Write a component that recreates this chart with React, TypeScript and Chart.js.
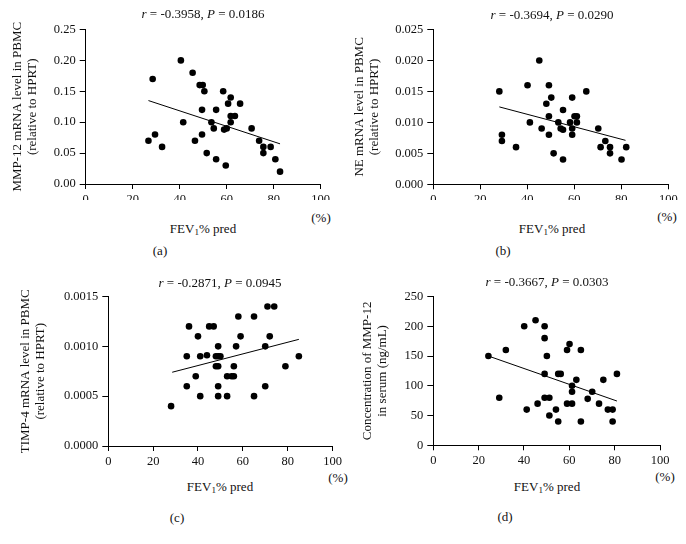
import React, { useEffect, useRef } from "react";
import { Chart, registerables } from "chart.js";
Chart.register(...registerables);

const FONT = "'Liberation Serif', 'Times New Roman', serif";

const xTicks = [0, 20, 40, 60, 80, 100];

// Panel (a)
const aX = [26.7, 28.5, 29.5, 32.5, 40.5, 41.5, 45.5, 46.5, 48.5, 49.8, 50.5, 49.5, 49.5, 51.5, 53.5, 54.5, 55.5, 55.5, 58.5, 58.9, 60, 59.6, 60.6, 61.7, 61.7, 63.5, 61.7, 65.7, 70.6, 73.8, 75.6, 75.6, 78.7, 80.7, 82.7];
const aY = [0.07, 0.17, 0.08, 0.06, 0.2, 0.1, 0.18, 0.07, 0.16, 0.16, 0.15, 0.12, 0.08, 0.05, 0.1, 0.09, 0.12, 0.04, 0.15, 0.088, 0.09, 0.03, 0.13, 0.14, 0.11, 0.11, 0.1, 0.13, 0.09, 0.07, 0.06, 0.05, 0.06, 0.04, 0.02];
const aLineX = [26.7, 82.7];
const aLineY = [0.135, 0.065];
const aYTicks = [0, 0.05, 0.1, 0.15, 0.2, 0.25];

// Panel (b)
const bX = [28.1, 29.2, 29.2, 35.2, 40.1, 41.1, 45.1, 46.1, 48.1, 49.2, 50.2, 49.2, 49.2, 51.2, 53.2, 54.2, 55.2, 55.2, 55.2, 58.2, 59.1, 59.1, 59.1, 60.1, 61.1, 61.1, 65.1, 70.2, 71.2, 73.2, 75.2, 75.2, 80.1, 82.1];
const bY = [0.015, 0.008, 0.007, 0.006, 0.016, 0.01, 0.02, 0.009, 0.013, 0.016, 0.014, 0.011, 0.008, 0.005, 0.01, 0.009, 0.0088, 0.012, 0.004, 0.01, 0.014, 0.009, 0.008, 0.011, 0.011, 0.01, 0.015, 0.009, 0.006, 0.007, 0.006, 0.005, 0.004, 0.006];
const bLineX = [28.1, 81.8];
const bLineY = [0.0125, 0.0071];
const bYTicks = [0, 0.005, 0.01, 0.015, 0.02, 0.025];

// Panel (c)
const cX = [28, 35, 35, 36, 39, 40, 41, 41, 44, 45, 47, 48, 48, 49, 49, 49, 50, 49, 49, 53, 55, 56, 53, 56, 57, 58, 59, 65, 65, 70, 70, 71, 72, 74, 79, 85];
const cY = [0.0004, 0.0009, 0.0006, 0.0012, 0.0007, 0.0011, 0.0009, 0.0005, 0.00091, 0.0012, 0.0012, 0.0009, 0.0008, 0.001, 0.0008, 0.0009, 0.0009, 0.0006, 0.0005, 0.0007, 0.0007, 0.0007, 0.0005, 0.0008, 0.001, 0.0013, 0.0011, 0.0013, 0.0005, 0.001, 0.0006, 0.0014, 0.0011, 0.0014, 0.0008, 0.0009];
const cLineX = [28.5, 85];
const cLineY = [0.00074, 0.00107];
const cYTicks = [0, 0.0005, 0.001, 0.0015];

// Panel (d)
const dX = [24.3, 29.1, 32, 40.1, 41.2, 45.1, 46, 49.1, 49.1, 50.1, 49.1, 49.1, 51.2, 51.2, 54.1, 55.1, 55.1, 56.2, 59, 60.1, 59, 61.2, 61.2, 61.2, 63.1, 65.1, 65.1, 68.1, 70.1, 73.1, 75, 77, 79.1, 79.1, 81];
const dY = [150, 80, 160, 200, 60, 210, 70, 200, 180, 150, 120, 80, 80, 50, 60, 40, 120, 120, 160, 170, 70, 70, 100, 90, 110, 160, 40, 78, 90, 70, 110, 60, 60, 40, 120];
const dLineX = [24.3, 81];
const dLineY = [150, 74.4];
const dYTicks = [0, 50, 100, 150, 200, 250];

type PanelCfg = {
  xs: number[]; ys: number[]; lx: number[]; ly: number[];
  yTicks: number[]; dec: number; yTitle: string[];
  left: number; top: number; w: number; h: number;
  yW: number; xH: number; padTop: number; padRight: number; titlePad: number;
};

const panels: PanelCfg[] = [
  { xs: aX, ys: aY, lx: aLineX, ly: aLineY, yTicks: aYTicks, dec: 2, yTitle: ["MMP-12 mRNA level in PBMC", "(relative to HPRT)"],
    left: 0, top: 18, w: 345, h: 182, yW: 85.7, xH: 16, padTop: 10, padRight: 24.3, titlePad: 10 },
  { xs: bX, ys: bY, lx: bLineX, ly: bLineY, yTicks: bYTicks, dec: 3, yTitle: ["NE mRNA level in PBMC", "(relative to HPRT)"],
    left: 345, top: 18, w: 341, h: 182, yW: 88.3, xH: 15.7, padTop: 10.7, padRight: 17.7, titlePad: 7.5 },
  { xs: cX, ys: cY, lx: cLineX, ly: cLineY, yTicks: cYTicks, dec: 4, yTitle: ["TIMP-4 mRNA level in PBMC", "(relative to HPRT)"],
    left: 0, top: 285, w: 345, h: 180, yW: 108.3, xH: 19, padTop: 11.3, padRight: 12.5, titlePad: 18.5 },
  { xs: dX, ys: dY, lx: dLineX, ly: dLineY, yTicks: dYTicks, dec: 0, yTitle: ["Concentration of MMP-12", "in serum (ng/mL)"],
    left: 345, top: 285, w: 341, h: 180, yW: 88.3, xH: 19.7, padTop: 10.3, padRight: 26, titlePad: 15.5 },
];

const titles = [
  { r: "-0.3958", p: "0.0186", x: 203, y: 13 },
  { r: "-0.3694", p: "0.0290", x: 552, y: 14 },
  { r: "-0.2871", p: "0.0945", x: 220, y: 282 },
  { r: "-0.3667", p: "0.0303", x: 547, y: 281 },
];
const xTitlePos = [[203, 228], [552, 228], [220, 486], [547, 486]];
const pctPos = [[321, 217], [667, 216], [338, 477], [665, 476]];
const captions = ["(a)", "(b)", "(c)", "(d)"];
const capPos = [[160, 250], [503, 250], [177, 517], [505, 516]];

function makeChart(canvas: HTMLCanvasElement, p: PanelCfg) {
  const tickFont = { family: FONT, size: 12.5 };
  return new Chart(canvas, {
    type: "scatter",
    data: {
      datasets: [
        {
          data: p.xs.map((x, i) => ({ x, y: p.ys[i] })),
          backgroundColor: "#000",
          borderColor: "#000",
          borderWidth: 0,
          pointRadius: 3.3,
          pointHoverRadius: 3.3,
        },
        {
          data: p.lx.map((x, i) => ({ x, y: p.ly[i] })),
          showLine: true,
          borderColor: "#000",
          borderWidth: 1,
          pointRadius: 0,
          fill: false,
        } as any,
      ],
    },
    options: {
      responsive: false,
      animation: false,
      events: [],
      layout: { padding: { top: p.padTop, right: p.padRight, left: 0, bottom: 0 } },
      plugins: { legend: { display: false }, tooltip: { enabled: false } },
      scales: {
        x: {
          type: "linear",
          min: 0,
          max: 100,
          afterBuildTicks: (s: any) => { s.ticks = xTicks.map((v) => ({ value: v })); },
          afterFit: (s: any) => { s.height = p.xH; },
          grid: { drawOnChartArea: false, drawTicks: true, tickLength: 5, color: "#000" },
          border: { display: true, color: "#000", width: 1 },
          ticks: { color: "#111", font: tickFont, padding: 3, maxRotation: 0, autoSkip: false },
        },
        y: {
          type: "linear",
          min: 0,
          max: p.yTicks[p.yTicks.length - 1],
          afterBuildTicks: (s: any) => { s.ticks = p.yTicks.map((v) => ({ value: v })); },
          afterFit: (s: any) => { s.width = p.yW; },
          grid: { drawOnChartArea: false, drawTicks: true, tickLength: 6, color: "#000" },
          border: { display: true, color: "#000", width: 1 },
          ticks: {
            color: "#111",
            font: tickFont,
            padding: 4,
            autoSkip: false,
            callback: (v: any) => Number(v).toFixed(p.dec),
          },
          title: {
            display: true,
            text: p.yTitle,
            color: "#111",
            font: { family: FONT, size: 13, lineHeight: 1.15 },
            padding: { top: p.titlePad, bottom: 0 },
          },
        },
      },
    } as any,
  });
}

const textBase: React.CSSProperties = {
  position: "absolute",
  transform: "translate(-50%, -50%)",
  whiteSpace: "nowrap",
  fontFamily: FONT,
  fontSize: 13,
  color: "#111",
  lineHeight: 1,
};

export default function App() {
  const refs = [useRef<HTMLCanvasElement>(null), useRef<HTMLCanvasElement>(null), useRef<HTMLCanvasElement>(null), useRef<HTMLCanvasElement>(null)];
  useEffect(() => {
    const charts = panels.map((p, i) => makeChart(refs[i].current as HTMLCanvasElement, p));
    return () => charts.forEach((c) => c.destroy());
  }, []);

  return (
    <div style={{ position: "absolute", left: 0, top: 0, width: 686, height: 544, background: "#fff", overflow: "hidden" }}>
      {panels.map((p, i) => (
        <canvas
          key={"c" + i}
          ref={refs[i]}
          width={p.w}
          height={p.h}
          style={{ position: "absolute", left: p.left, top: p.top, width: p.w, height: p.h }}
        />
      ))}
      {titles.map((t, i) => (
        <div key={"t" + i} style={{ ...textBase, left: t.x, top: t.y }}>
          <i>r</i> = {t.r}, <i>P</i> = {t.p}
        </div>
      ))}
      {xTitlePos.map((pos, i) => (
        <div key={"x" + i} style={{ ...textBase, left: pos[0], top: pos[1] }}>
          FEV<sub style={{ fontSize: "0.7em", verticalAlign: "-0.3em", lineHeight: 0 }}>1</sub>% pred
        </div>
      ))}
      {pctPos.map((pos, i) => (
        <div key={"p" + i} style={{ ...textBase, left: pos[0], top: pos[1] }}>(%)</div>
      ))}
      {captions.map((c, i) => (
        <div key={"k" + i} style={{ ...textBase, left: capPos[i][0], top: capPos[i][1] }}>{c}</div>
      ))}
    </div>
  );
}
